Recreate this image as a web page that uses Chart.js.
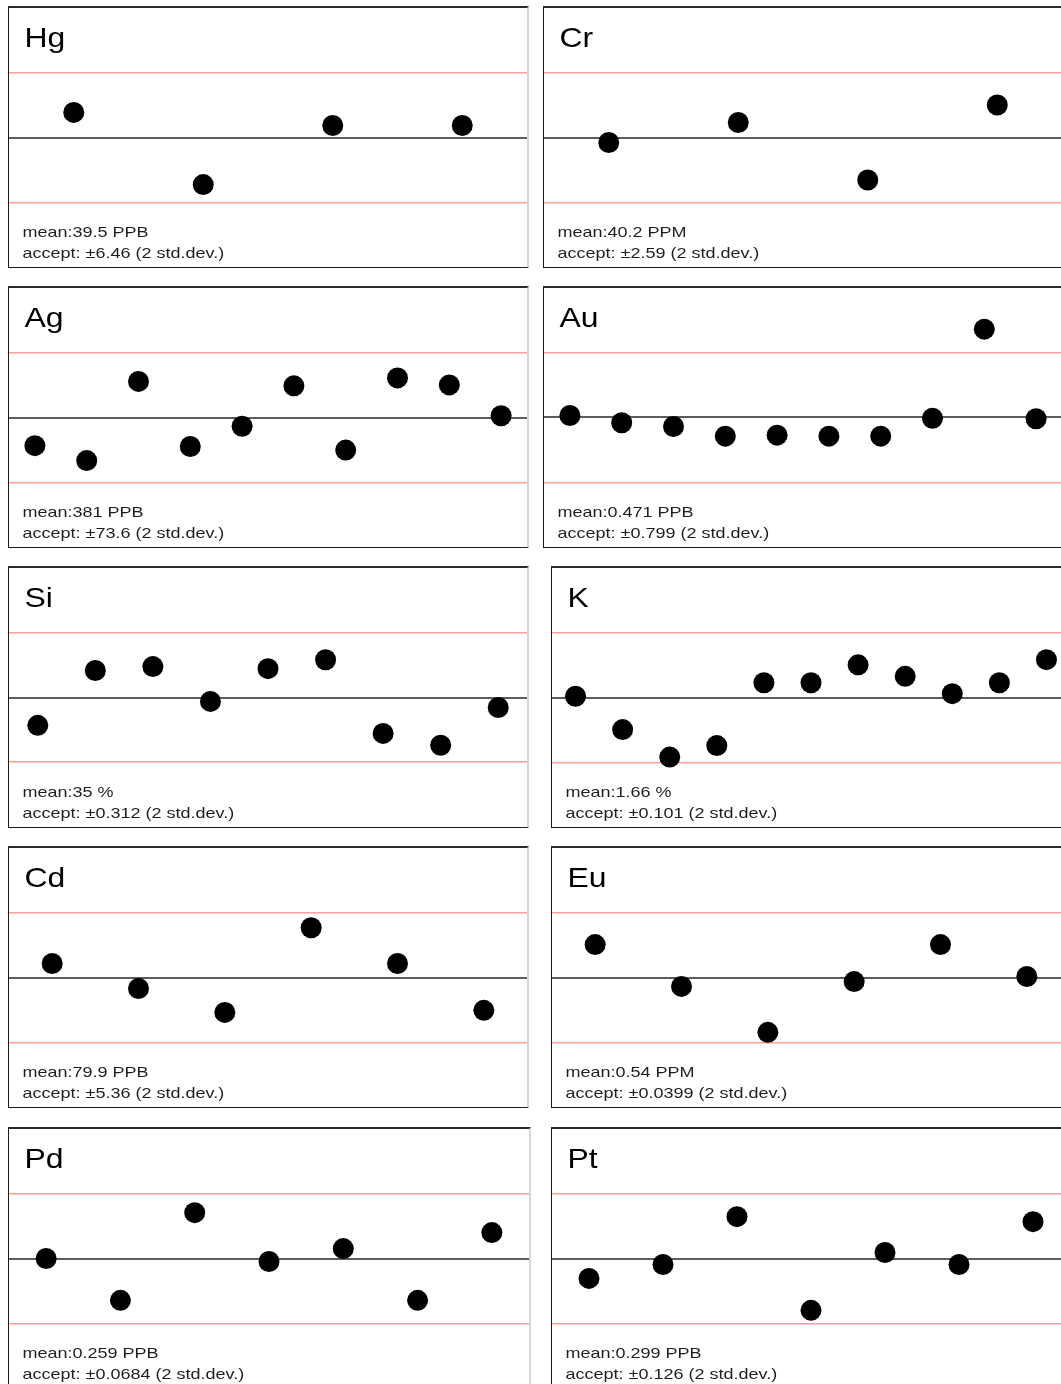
<!DOCTYPE html>
<html>
<head>
<meta charset="utf-8">
<script src="https://cdn.jsdelivr.net/npm/chart.js@4/dist/chart.umd.min.js"></script>
<style>
html, body { margin: 0; padding: 0; background: #fff; }
body { width: 1061px; height: 1384px; position: relative; overflow: hidden; }
.panel {
  position: absolute;
  box-sizing: content-box;
  border-top: 2px solid #2a2a2a;
  border-left: 1px solid #1a1a1a;
  border-bottom: 1px solid #1a1a1a;
  border-right: 2px solid #d6d6d6;
  background: #fff;
}
.panel canvas { display: block; }
</style>
</head>
<body>
<script>
// ---------- data ----------
const elements = ['Hg', 'Cr', 'Ag', 'Au', 'Si', 'K', 'Cd', 'Eu', 'Pd', 'Pt'];
const units = ['PPB', 'PPM', 'PPB', 'PPB', '%', '%', 'PPB', 'PPM', 'PPB', 'PPB'];
const means = [39.5, 40.2, 381, 0.471, 35, 1.66, 79.9, 0.54, 0.259, 0.299];
const accepts = [6.46, 2.59, 73.6, 0.799, 0.312, 0.101, 5.36, 0.0399, 0.0684, 0.126];

const hgValues = [42.0, 34.8, 40.7, 40.7];
const crValues = [40.0, 40.8, 38.5, 41.5];
const agValues = [349, 332, 422, 348, 371, 417, 344, 426, 418, 383];
const auValues = [0.496, 0.406, 0.360, 0.241, 0.253, 0.241, 0.241, 0.462, 1.561, 0.455];
const siValues = [34.866, 35.130, 35.149, 34.981, 35.139, 35.182, 34.827, 34.770, 34.952];
const kValues = [1.662, 1.610, 1.567, 1.585, 1.683, 1.683, 1.711, 1.693, 1.666, 1.683, 1.719];
const cdValues = [81.06, 78.99, 77.01, 84.02, 81.06, 77.18];
const euValues = [0.5603, 0.5345, 0.5062, 0.5375, 0.5603, 0.5406];
const pdValues = [0.259, 0.2148, 0.3074, 0.2558, 0.2695, 0.2148, 0.2864];
const ptValues = [0.2602, 0.2874, 0.3804, 0.1982, 0.3106, 0.2874, 0.3707];

const seriesValues = [hgValues, crValues, agValues, auValues, siValues,
                      kValues, cdValues, euValues, pdValues, ptValues];

// ---------- layout (styles only) ----------
const rowTops = [6, 286, 566, 846, 1127];
const leftColX = 8;
const rightColX = [543, 543, 551, 551, 551];
const panelWidths = [518, 518, 518, 518, 518, 518, 518, 518, 520, 518];
const panelHeight = 259;

// ---------- text plugin ----------
const panelText = {
  id: 'panelText',
  afterDraw(chart, args, opts) {
    const ctx = chart.ctx;
    ctx.save();
    ctx.textBaseline = 'alphabetic';
    ctx.textAlign = 'left';
    ctx.fillStyle = '#000';
    ctx.font = '28px "Liberation Sans", Arial, sans-serif';
    ctx.translate(15.5, 39);
    ctx.scale(1.14, 1);
    ctx.fillText(opts.title, 0, 0);
    ctx.restore();

    ctx.save();
    ctx.fillStyle = '#1e1e1e';
    ctx.font = '15px "Liberation Sans", Arial, sans-serif';
    ctx.translate(13.5, 229);
    ctx.scale(1.2, 1);
    ctx.fillText(opts.line1, 0, 0);
    ctx.fillText(opts.line2, 0, 21);
    ctx.restore();
  }
};

elements.forEach((el, i) => {
  const row = Math.floor(i / 2);
  const col = i % 2;
  const div = document.createElement('div');
  div.className = 'panel';
  div.style.left = (col === 0 ? leftColX : rightColX[row]) + 'px';
  div.style.top = rowTops[row] + 'px';
  div.style.width = panelWidths[i] + 'px';
  div.style.height = panelHeight + 'px';
  const canvas = document.createElement('canvas');
  canvas.width = panelWidths[i];
  canvas.height = panelHeight;
  div.appendChild(canvas);
  document.body.appendChild(div);

  const mean = means[i];
  const acc = accepts[i];
  const vals = seriesValues[i];
  const labels = vals.map((_, k) => String(k + 1));

  new Chart(canvas, {
    type: 'line',
    data: {
      labels: labels,
      datasets: [{
        data: vals,
        showLine: false,
        pointRadius: 10.5,
        pointHoverRadius: 10.5,
        pointBackgroundColor: '#000',
        pointBorderWidth: 0,
        clip: false
      }]
    },
    plugins: [panelText],
    options: {
      responsive: false,
      devicePixelRatio: 1,
      animation: false,
      events: [],
      layout: { padding: 0, autoPadding: false },
      scales: {
        x: {
          type: 'category',
          display: false,
          offset: true
        },
        y: {
          min: mean - 2 * acc,
          max: mean + 2 * acc,
          afterBuildTicks: (axis) => {
            axis.ticks = [{ value: mean - acc }, { value: mean }, { value: mean + acc }];
          },
          afterFit: (axis) => { axis.width = 0; },
          ticks: { display: false, padding: 0 },
          border: { display: false },
          grid: {
            drawTicks: false,
            tickLength: 0,
            color: (c) => (c.index === 1 ? '#5c5c5c' : '#ff9c9c'),
            lineWidth: (c) => (c.index === 1 ? 2 : 1.5)
          }
        }
      },
      plugins: {
        legend: { display: false },
        tooltip: { enabled: false },
        panelText: {
          title: el,
          line1: 'mean:' + String(mean) + ' ' + units[i],
          line2: 'accept: \u00b1' + String(acc) + ' (2 std.dev.)'
        }
      }
    }
  });
});
</script>
</body>
</html>
